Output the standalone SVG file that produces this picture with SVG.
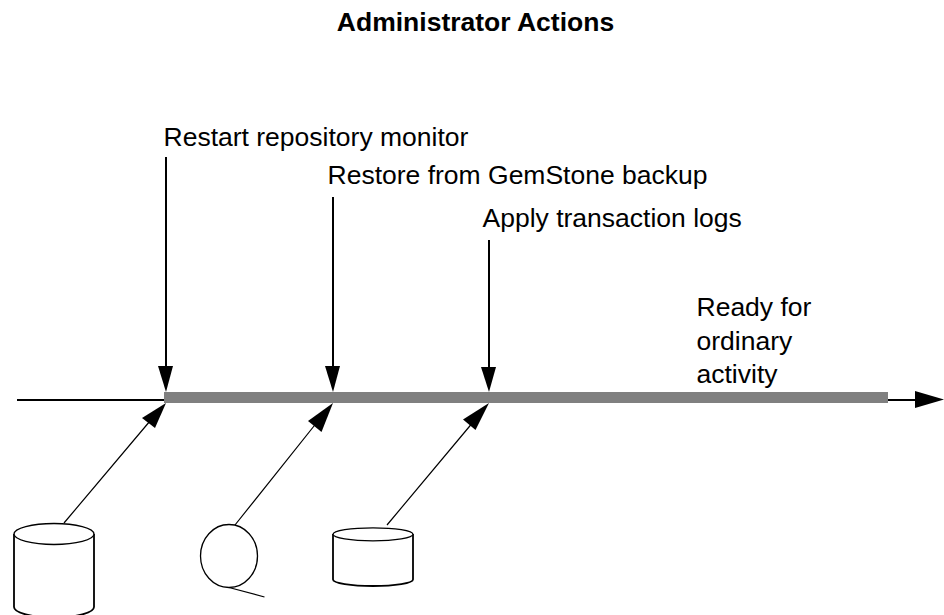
<svg xmlns="http://www.w3.org/2000/svg" width="944" height="615" viewBox="0 0 944 615">
<style>
text{font-family:"Liberation Sans",Arial,sans-serif;font-size:26.500px;fill:#000}
.title{font-weight:bold;text-anchor:middle}
.shape{fill:#fff;stroke:#000;stroke-width:1.3}
.side{fill:none;stroke:#000;stroke-width:1.8}
.thin{fill:none;stroke:#000;stroke-width:1.2}
.axis{fill:none;stroke:#000;stroke-width:2}
.head{fill:#000;stroke:none}
</style>
<rect width="944" height="615" fill="#fff"/>
<text class="title" x="475.500" y="31">Administrator Actions</text>
<g id="timeline">
<path class="axis" d="M17 400H166M888 400H916"/>
<polygon class="head" points="944,399.500 915,391 915,408"/>
<rect x="164" y="392" width="724" height="11" fill="#808080"/>
</g>
<g id="connectors">
<path class="axis" d="M166 157V368M333 197V368M489 240V368"/>
<polygon class="head" points="166,392 158,366 173,366"/>
<polygon class="head" points="333,392 325,366 340,366"/>
<polygon class="head" points="489,392 481,367 496,367"/>
<path class="thin" d="M64 523L150 421M235 525L318 421M387 525L474 421"/>
<polygon class="head" points="166,403 155,428 142,418"/>
<polygon class="head" points="333,403 321.500,432 308,421"/>
<polygon class="head" points="489,403 475.500,430 463,419.500"/>
</g>
<g id="label-restart"><text x="163.500" y="146">Restart repository monitor</text></g>
<g id="label-restore"><text x="327.500" y="184">Restore from GemStone backup</text></g>
<g id="label-apply"><text x="482.500" y="227">Apply transaction logs</text></g>
<g id="label-ready"><text x="696.500" y="316">Ready for</text><text x="696.500" y="349.500">ordinary</text><text x="696.500" y="383">activity</text></g>
<g id="repository-disk">
<path class="side" d="M14 534V607A40 10.500 0 0 0 94 607V534"/>
<ellipse class="shape" cx="54" cy="534" rx="40" ry="10.500"/>
</g>
<g id="backup-tape">
<ellipse class="shape" cx="229" cy="556" rx="28.500" ry="31.500"/>
<path class="thin" d="M229 587.500L264.500 597"/>
</g>
<g id="log-disk">
<path class="side" d="M333 534V579.500A40 6.500 0 0 0 413 579.500V534"/>
<ellipse class="shape" cx="373" cy="534.300" rx="40" ry="6.500"/>
</g>
</svg>
